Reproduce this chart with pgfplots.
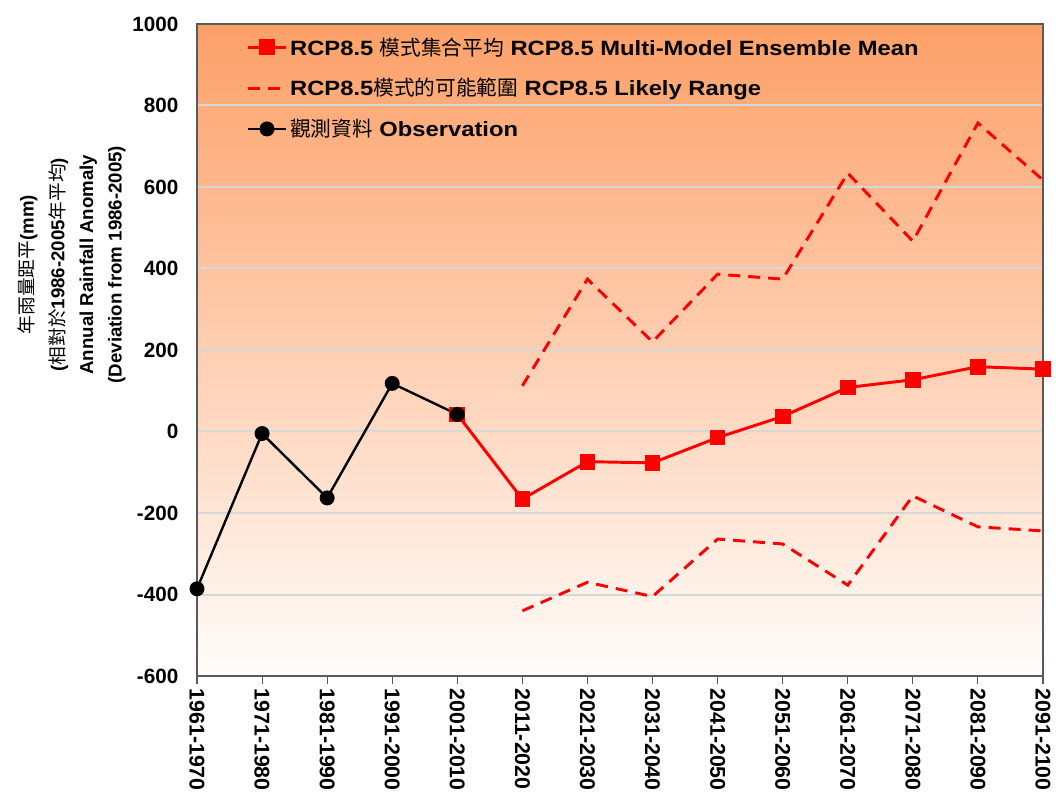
\documentclass[border=0pt]{standalone}
\usepackage{fontspec}
\setmainfont{Liberation Sans}
\newfontfamily\legfont{Liberation Sans}[FakeStretch=1.15]
\newfontfamily\cjk{Noto Sans CJK TC}
\usepackage{pgfplots}
\pgfplotsset{compat=1.18}
\definecolor{topc}{RGB}{253,160,104}
\definecolor{botc}{RGB}{255,253,251}
\definecolor{gridc}{RGB}{215,215,215}
\definecolor{framec}{RGB}{90,90,90}
\begin{document}
\begin{tikzpicture}
\begin{axis}[
  name=ax,
  scale only axis,
  width=634.5pt, height=489pt,
  xmin=0, xmax=13, ymin=-600, ymax=1000,
  axis background/.style={top color=topc, bottom color=botc},
  axis line style={framec, line width=1.1pt},
  xtick={0,...,13},
  xticklabels={1961-1970,1971-1980,1981-1990,1991-2000,2001-2010,2011-2020,2021-2030,2031-2040,2041-2050,2051-2060,2061-2070,2071-2080,2081-2090,2091-2100},
  xticklabel style={rotate=-90, anchor=west, font=\fontsize{16}{18}\selectfont\bfseries},
  xtick pos=bottom, xtick align=outside, major tick length=6pt,
  xtick style={framec, line width=0.8pt},
  ytick={-600,-400,...,1000},
  ytick style={draw=none},
  yticklabel style={font=\fontsize{15.5}{18}\selectfont\bfseries, xshift=-10.5pt},
  /pgf/number format/assume math mode=true,
  /pgf/number format/1000 sep={},
  ymajorgrids, xmajorgrids=false,
  major grid style={gridc, line width=1.5pt},
  clip=false,
  legend style={at={(rel axis cs:0,1)}, anchor=north west, xshift=34pt, yshift=-6pt, draw=none, fill=none,
    font=\fontsize{15.5}{18}\selectfont\legfont\bfseries, row sep=12pt, cells={anchor=west}},
  legend image code/.code={\draw[mark repeat=2,mark phase=2,#1] plot coordinates {(0cm,0cm) (0.5cm,0cm) (1cm,0cm)};},
]
\addplot[red, line width=2.2pt, mark=square*, mark size=4.8pt, mark options={solid}] coordinates {
(4,42) (5,-166) (6,-74) (7,-77) (8,-15) (9,37) (10,108) (11,127) (12,159) (13,153)};
\addlegendentry{RCP8.5 {\cjk\mdseries 模式集合平均} RCP8.5 Multi-Model Ensemble Mean}
\addplot[red, line width=2.2pt, dash pattern=on 9pt off 6pt] coordinates {
(5,112) (6,374) (7,220) (8,386) (9,374) (10,634) (11,467) (12,757) (13,617)};
\addlegendentry{RCP8.5{\cjk\mdseries 模式的可能範圍} RCP8.5 Likely Range}
\addplot[red, line width=2.2pt, dash pattern=on 9pt off 6pt, forget plot] coordinates {
(5,-440) (6,-370) (7,-405) (8,-264) (9,-276) (10,-377) (11,-158) (12,-234) (13,-244)};
\addplot[black, line width=1.8pt, mark=*, mark size=4.7pt] coordinates {
(0,-386) (1,-5) (2,-163) (3,118) (4,42)};
\addlegendentry{{\cjk\mdseries 觀測資料} Observation}
\end{axis}
\node[rotate=90, anchor=south, align=center, font=\fontsize{14}{21.5}\selectfont]
  at ([shift={(-50pt,64pt)}]ax.west)
  {{\cjk 年雨量距平}\textbf{(mm)}\\[1.5pt]\textbf{(}{\cjk 相對於}\textbf{1986-2005}{\cjk 年平均}\textbf{)}\\\textbf{Annual Rainfall Anomaly}\\\textbf{(Deviation from 1986-2005)}};
\pgfresetboundingbox
\path[use as bounding box] ([shift={(-147.75pt,-92.25pt)}]ax.south west) rectangle ([shift={(9.75pt,18pt)}]ax.north east);
\end{tikzpicture}
\end{document}
